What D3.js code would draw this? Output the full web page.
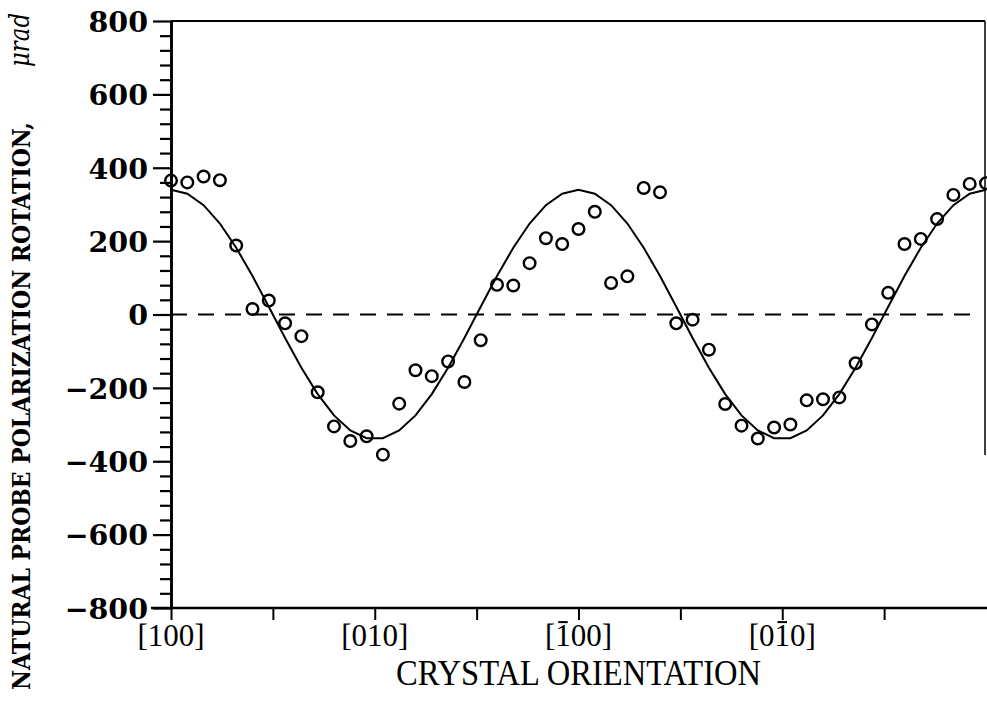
<!DOCTYPE html>
<html><head><meta charset="utf-8">
<script src="https://cdn.jsdelivr.net/npm/d3@7"></script>
<style>body{margin:0;background:#fff}svg{display:block}</style>
</head><body><svg id="c" width="987" height="701"></svg>
<script>
// ---- data ----
const angles = [0,7.2,14.4,21.6,28.8,36,43.2,50.4,57.6,64.8,72,79.2,86.4,93.6,100.8,108,115.2,122.4,129.6,136.8,144,151.2,158.4,165.6,172.8,180,187.2,194.4,201.6,208.8,216,223.2,230.4,237.6,244.8,252,259.2,266.4,273.6,280.8,288,295.2,302.4,309.6,316.8,324,331.2,338.4,345.6,352.8,360];
const rotation = [365,360,376,366,188,15,38,-24,-59,-212,-305,-345,-332,-382,-243,-152,-168,-128,-184,-70,81,79,140,208,192,233,280,86,104,345,333,-24,-14,-96,-244,-303,-338,-308,-300,-234,-231,-226,-133,-27,59,192,206,260,326,356,358];
const fitValues = [340,329,298,248,182,105,21,-64,-145,-217,-275,-316,-337,-337,-316,-275,-217,-145,-64,21,105,182,248,298,329,340,329,298,248,182,105,21,-64,-145,-217,-275,-316,-337,-337,-316,-275,-217,-145,-64,21,105,182,248,298,329,340];
const yMajorTicks = [-800,-600,-400,-200,0,200,400,600,800];
const yMinorTicks = [-760,-720,-680,-640,-560,-520,-480,-440,-360,-320,-280,-240,-160,-120,-80,-40,40,80,120,160,240,280,320,360,440,480,520,560,640,680,720,760];
const xTickAngles = [0,45,90,135,180,225,270,315];
const xLabelAngles = [0,90,180,270];
const xLabelTexts = ["[100]","[010]","[100]","[010]"];
const xLabelBarIndex = [-1,-1,1,2];
const yTitle = "NATURAL PROBE POLARIZATION ROTATION,";
const yUnit = "\u03BCrad";
const xTitle = "CRYSTAL ORIENTATION";

// ---- layout ----
const svg = d3.select("#c");
const pLeft = 171, pRight = 986, pTop = 21, pBottom = 608;
const x = d3.scaleLinear().domain([0,360]).range([pLeft,pRight]);
const y = d3.scaleLinear().domain([-800,800]).range([pBottom,pTop]);

// frame (top and right)
svg.append("line").attr("x1",pLeft).attr("x2",985).attr("y1",pTop).attr("y2",pTop)
  .attr("stroke","#000").attr("stroke-width",2);
svg.append("line").attr("x1",985).attr("x2",985).attr("y1",pTop).attr("y2",455)
  .attr("stroke","#000").attr("stroke-width",1.5);

// y axis minor ticks
const gyMinor = svg.append("g").attr("transform",`translate(${pLeft},0)`)
  .call(d3.axisLeft(y).tickValues(yMinorTicks).tickSize(11).tickSizeOuter(0).tickFormat(""));
// y axis major
const gy = svg.append("g").attr("transform",`translate(${pLeft},0)`)
  .call(d3.axisLeft(y).tickValues(yMajorTicks).tickSize(18).tickSizeOuter(0).tickPadding(5)
    .tickFormat(d => d < 0 ? "\u2212" + Math.abs(d) : d));
[gyMinor, gy].forEach(g => {
  g.selectAll("line").attr("stroke","#000").attr("stroke-width",2.2);
  g.select(".domain").attr("stroke","#000").attr("stroke-width",2.6);
});
gy.selectAll("text").attr("font-family","'DejaVu Serif', serif").attr("font-weight","bold")
  .attr("font-size",28.5).attr("fill","#000").attr("dy","0.36em");

// x axis
const gx = svg.append("g").attr("transform",`translate(0,${pBottom})`)
  .call(d3.axisBottom(x).tickValues(xTickAngles).tickSize(12).tickSizeOuter(0).tickFormat(""));
gx.selectAll("line").attr("stroke","#000").attr("stroke-width",2);
gx.select(".domain").attr("stroke","#000").attr("stroke-width",2.6)
  .attr("d",`M${pLeft-20},0H987`);

// x tick labels with overbars drawn as lines
const labFS = 31, labBase = 646;
xLabelAngles.forEach((a,i) => {
  const t = svg.append("text").attr("x",x(a)).attr("y",labBase)
    .attr("text-anchor","middle").attr("font-family","'Liberation Serif', serif")
    .attr("font-size",labFS).attr("fill","#000").text(xLabelTexts[i]);
  const k = xLabelBarIndex[i];
  if (k >= 0) {
    const ext = t.node().getExtentOfChar(k);
    svg.append("line").attr("x1",ext.x+3).attr("x2",ext.x+ext.width-3)
      .attr("y1",labBase-0.69*labFS-2.5).attr("y2",labBase-0.69*labFS-2.5)
      .attr("stroke","#000").attr("stroke-width",2);
  }
});

// zero dashed line
svg.append("line").attr("x1",pLeft).attr("x2",976).attr("y1",y(0)).attr("y2",y(0))
  .attr("stroke","#000").attr("stroke-width",2).attr("stroke-dasharray","16,11");

// fitted curve
const line = d3.line().x((d,i)=>x(angles[i])).y(d=>y(d));
svg.append("path").datum(fitValues).attr("d",line)
  .attr("fill","none").attr("stroke","#000").attr("stroke-width",2);

// data points
svg.append("g").selectAll("circle").data(rotation).join("circle")
  .attr("cx",(d,i)=>x(angles[i])).attr("cy",d=>y(d)).attr("r",5.8)
  .attr("fill","none").attr("stroke","#000").attr("stroke-width",2.4);

// axis titles
svg.append("text").attr("x",x(180)).attr("y",685).attr("text-anchor","middle")
  .attr("font-family","'Liberation Serif', serif").attr("font-size",35)
  .attr("textLength",365).attr("lengthAdjust","spacingAndGlyphs").attr("fill","#000").text(xTitle);

svg.append("text").attr("transform","translate(30,690) rotate(-90)")
  .attr("font-family","'DejaVu Serif', serif").attr("font-weight","bold").attr("font-size",24)
  .attr("textLength",568).attr("lengthAdjust","spacingAndGlyphs").attr("fill","#000").text(yTitle);
svg.append("text").attr("transform","translate(29,67) rotate(-90)")
  .attr("font-family","'DejaVu Serif', serif").attr("font-style","italic").attr("font-size",28)
  .attr("textLength",54).attr("lengthAdjust","spacingAndGlyphs").attr("fill","#000").text(yUnit);
</script></body></html>
